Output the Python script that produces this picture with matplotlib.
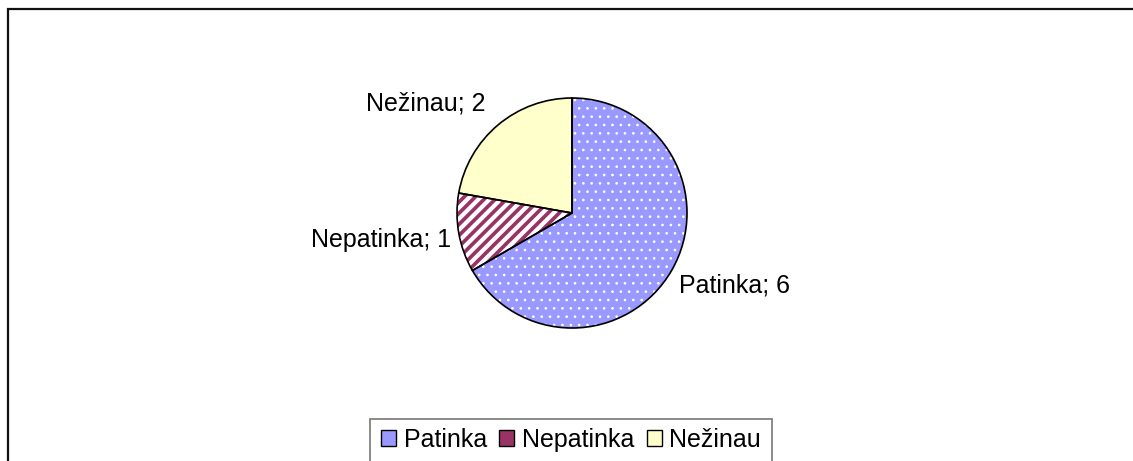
import matplotlib
matplotlib.use("Agg")
import matplotlib.pyplot as plt
from matplotlib.patches import Rectangle, Patch

labels = ["Patinka", "Nepatinka", "Nežinau"]
values = [6, 1, 2]
colors = ["#9999FF", "#993366", "#FFFFCC"]
hatches = ["..", "///", ""]
hatch_lw = [0.7, 3.0, 1.0]

plt.rcParams['font.family'] = ['Liberation Sans', 'DejaVu Sans']

W, H = 1133, 461
fig = plt.figure(figsize=(W / 100, H / 100), dpi=100)

# outer chart frame (only left/top visible)
fig.patches.append(Rectangle((8 / W, -0.1), 1.2, 1 - 9 / H + 0.1, transform=fig.transFigure,
                             fill=False, edgecolor="#111111", linewidth=1.6))

# pie axes: center (572, 213), radius 115 px
cx, cy, r = 572, 213, 115
ax = fig.add_axes([(cx - r) / W, 1 - (cy + r) / H, 2 * r / W, 2 * r / H])
wedges, _ = ax.pie(values, colors=colors, startangle=90, counterclock=False,
                   wedgeprops=dict(edgecolor="white", linewidth=0))
for w, h, lw in zip(wedges, hatches, hatch_lw):
    w.set_hatch(h)
    if hasattr(w, "set_hatch_linewidth"):
        w.set_hatch_linewidth(lw)
    else:
        w._hatch_linewidth = lw
# black outlines on top
ax.pie(values, colors=["none"] * 3, startangle=90, counterclock=False,
       wedgeprops=dict(edgecolor="black", linewidth=1.2, fill=False))
ax.set_xlim(-1, 1)
ax.set_ylim(-1, 1)
ax.set_aspect("auto")

# data labels
fs = 18
fig.text(679 / W, 1 - 285 / H, "Patinka; 6", fontsize=fs, ha="left", va="center")
fig.text(451 / W, 1 - 240 / H, "Nepatinka; 1", fontsize=fs, ha="right", va="center")
fig.text(486 / W, 1 - 103 / H, "Nežinau; 2", fontsize=fs, ha="right", va="center")

# legend box
fig.patches.append(Rectangle((370 / W, -0.1), 402 / W, 1 - 419 / H + 0.1, transform=fig.transFigure,
                             fill=False, edgecolor="#777777", linewidth=1.2))
handles = []
for c in colors:
    handles.append(Patch(facecolor=c, edgecolor="black", linewidth=1))
fig.legend(handles, labels, loc="center", bbox_to_anchor=(571 / W, 1 - 440 / H),
           ncol=3, frameon=False, fontsize=fs, handlelength=0.6, handleheight=0.6,
           handletextpad=0.3, columnspacing=0.5)

fig.savefig("out.png", dpi=100)
